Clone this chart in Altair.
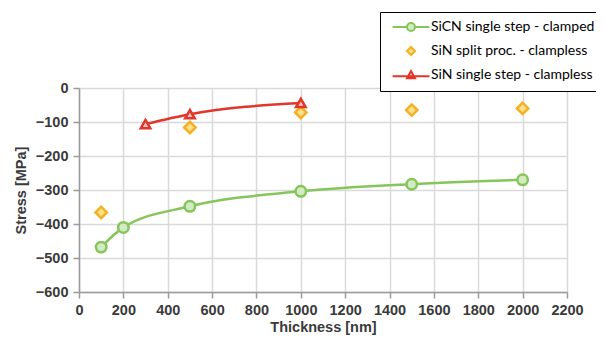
import altair as alt
import pandas as pd

# ---- data ----
sicn_x = [100, 200, 500, 1000, 1500, 2000]
sicn_y = [-468, -410, -348, -304, -283, -270]
split_x = [100, 500, 1000, 1500, 2000]
split_y = [-366, -116, -72, -65, -60]
single_x = [300, 500, 1000]
single_y = [-106, -77, -44]

names = ["SiCN single step - clamped", "SiN split proc. - clampless", "SiN single step - clampless"]
x_ticks = list(range(0, 2201, 200))
y_ticks = list(range(-600, 1, 100))

GREEN = "#86c55a"
GREEN_F = "#d3ebc4"
ORANGE = "#f4b020"
ORANGE_F = "#fde08a"
RED = "#e2352b"
RED_F = "#f6c4bd"
FONT = "Liberation Sans"

df_sicn = pd.DataFrame({"t": sicn_x, "s": sicn_y})
df_split = pd.DataFrame({"t": split_x, "s": split_y})
df_single = pd.DataFrame({"t": single_x, "s": single_y})
df_leg = pd.DataFrame({"series": names})

x_enc = alt.X("t:Q", scale=alt.Scale(domain=[0, 2200], nice=False),
              axis=alt.Axis(values=x_ticks, title="Thickness [nm]", format="d",
                            labelOverlap=False, labelFlush=False))
y_enc = alt.Y("s:Q", scale=alt.Scale(domain=[-600, 0], nice=False),
              axis=alt.Axis(values=y_ticks, title="Stress [MPa]", format="d",
                            labelOverlap=False, labelFlush=False))

green_line = alt.Chart(df_sicn).mark_line(color=GREEN, strokeWidth=2.5, interpolate="monotone").encode(x=x_enc, y=y_enc)
green_pts = alt.Chart(df_sicn).mark_point(shape="circle", size=110, filled=True, fill=GREEN_F,
                                          stroke=GREEN, strokeWidth=2.5, opacity=1).encode(x=x_enc, y=y_enc)
split_pts = alt.Chart(df_split).mark_point(shape="diamond", size=130, filled=True, fill=ORANGE_F,
                                           stroke=ORANGE, strokeWidth=2.5, opacity=1).encode(x=x_enc, y=y_enc)
red_line = alt.Chart(df_single).mark_line(color=RED, strokeWidth=2.5, interpolate="monotone").encode(x=x_enc, y=y_enc)
red_pts = alt.Chart(df_single).mark_point(shape="triangle-up", size=90, filled=True, fill=RED_F,
                                          stroke=RED, strokeWidth=2.5, opacity=1).encode(x=x_enc, y=y_enc)

circle_line = ("M -4.6 0 L -1 0 M 1 0 L 4.6 0 "
               "M 1 0 A 1 1 0 1 1 -1 0 A 1 1 0 1 1 1 0 Z")
tri_line = ("M -4.6 0.3 L 4.6 0.3 M 0 -1 L 1 0.8 L -1 0.8 Z")

leg = alt.Legend(orient="none", legendX=301, legendY=-76, labelFont="Lato", labelFontSize=14,
                 labelColor="#000000", strokeColor="#000000", fillColor="#ffffff", padding=8,
                 symbolOffset=16, labelOffset=13, rowPadding=8, symbolSize=64, symbolStrokeWidth=2,
                 labelLimit=400)

legend_layer = alt.Chart(df_leg).transform_filter("false").mark_point(size=64, strokeWidth=2, opacity=1).encode(
    shape=alt.Shape("series:N", title=None, scale=alt.Scale(domain=names, range=[circle_line, "diamond", tri_line]), legend=leg),
    stroke=alt.Stroke("series:N", title=None, scale=alt.Scale(domain=names, range=[GREEN, ORANGE, RED]), legend=leg),
    fill=alt.Fill("series:N", title=None, scale=alt.Scale(domain=names, range=[GREEN_F, ORANGE_F, RED_F]), legend=leg),
)

chart = alt.layer(green_line, green_pts, split_pts, red_line, red_pts, legend_layer).properties(
    width=488, height=204,
    autosize=alt.AutoSizeParams(type="none"),
    padding={"left": 71, "top": 80, "right": 29, "bottom": 43},
).configure(font=FONT).configure_view(stroke=None).configure_axis(
    gridColor="#d9d9d9", gridWidth=1.5, domainColor="#9a9a9a", domainWidth=1.5,
    tickColor="#9a9a9a", tickWidth=1.5, tickSize=6,
    labelFont=FONT, labelFontSize=14.5, labelColor="#3a3a3a", labelFontWeight="bold", labelPadding=5,
    titleFont=FONT, titleFontSize=14.5, titleColor="#3a3a3a", titleFontWeight="bold",
).configure_axisX(titlePadding=4).configure_axisY(titlePadding=7)

chart.save("out.html", embed_options={"renderer": "svg", "actions": False})
